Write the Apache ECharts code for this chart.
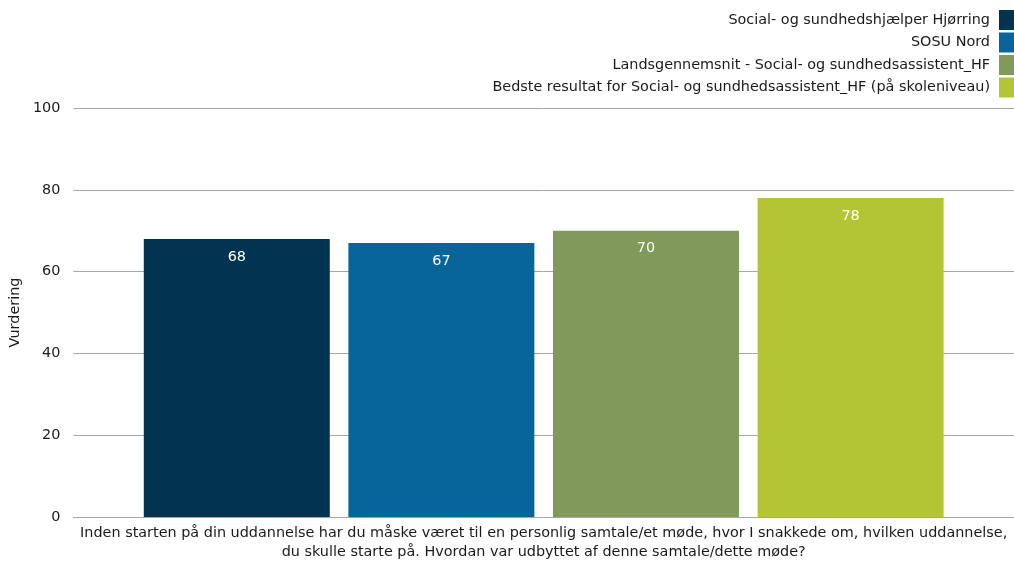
<!DOCTYPE html>
<html>
<head>
<meta charset="utf-8">
<script src="https://cdn.jsdelivr.net/npm/echarts@6/dist/echarts.min.js"></script>
<style>
  html, body { margin: 0; padding: 0; background: #fff; }
  #chart { width: 1014px; height: 563px; }
</style>
</head>
<body>
<div id="chart"></div>
<script>
// Question asked in the survey (one category on the x axis)
const categories = [
  'Inden starten på din uddannelse har du måske været til en personlig samtale/et møde, hvor I snakkede om, hvilken uddannelse,\ndu skulle starte på. Hvordan var udbyttet af denne samtale/dette møde?'
];
const seriesNames = [
  'Social- og sundhedshjælper Hjørring',
  'SOSU Nord',
  'Landsgennemsnit - Social- og sundhedsassistent_HF',
  'Bedste resultat for Social- og sundhedsassistent_HF (på skoleniveau)'
];
const seriesValues = [68, 67, 70, 78];
const seriesColors = ['#003450', '#08659a', '#7f9a59', '#b3c534'];
const yTicks = [0, 20, 40, 60, 80, 100];

const FONT = '"DejaVu Sans", Verdana, sans-serif';
const FS = 14.4;

const chart = echarts.init(document.getElementById('chart'), null, { renderer: 'canvas' });

const series = seriesNames.map((name, i) => ({
  name,
  type: 'bar',
  data: [seriesValues[i]],
  barWidth: 186,
  barGap: '10%',
  itemStyle: { color: seriesColors[i] },
  label: {
    show: true,
    position: 'insideTop',
    distance: 11,
    color: '#ffffff',
    fontFamily: FONT,
    fontSize: FS
  }
}));

chart.setOption({
  animation: false,
  textStyle: { fontFamily: FONT },
  grid: { left: 68, right: 0, top: 108, bottom: 46, containLabel: false },
  legend: {
    orient: 'vertical',
    right: 0,
    top: 10,
    padding: 0,
    align: 'right',
    itemWidth: 15,
    itemHeight: 20,
    itemGap: 2.5,
    icon: 'rect',
    textStyle: { fontFamily: FONT, fontSize: FS, color: '#1a1a1a', padding: [0, 4, 0, 0] },
    data: seriesNames
  },
  xAxis: {
    type: 'category',
    data: categories,
    axisLine: { show: true, lineStyle: { color: '#a6a6a6', width: 1 } },
    axisTick: { show: false },
    axisLabel: {
      color: '#1a1a1a',
      fontFamily: FONT,
      fontSize: FS,
      lineHeight: 19,
      margin: 7,
      interval: 0
    }
  },
  yAxis: {
    type: 'value',
    min: yTicks[0],
    max: yTicks[yTicks.length - 1],
    interval: 20,
    name: 'Vurdering',
    nameLocation: 'middle',
    nameGap: 50,
    nameRotate: 90,
    nameTextStyle: { color: '#1a1a1a', fontFamily: FONT, fontSize: FS },
    axisLine: { show: false },
    axisTick: { show: false },
    axisLabel: { color: '#1a1a1a', fontFamily: FONT, fontSize: FS, margin: 13 },
    splitLine: { lineStyle: { color: '#a6a6a6', width: 1 } }
  },
  series
});
</script>
</body>
</html>
